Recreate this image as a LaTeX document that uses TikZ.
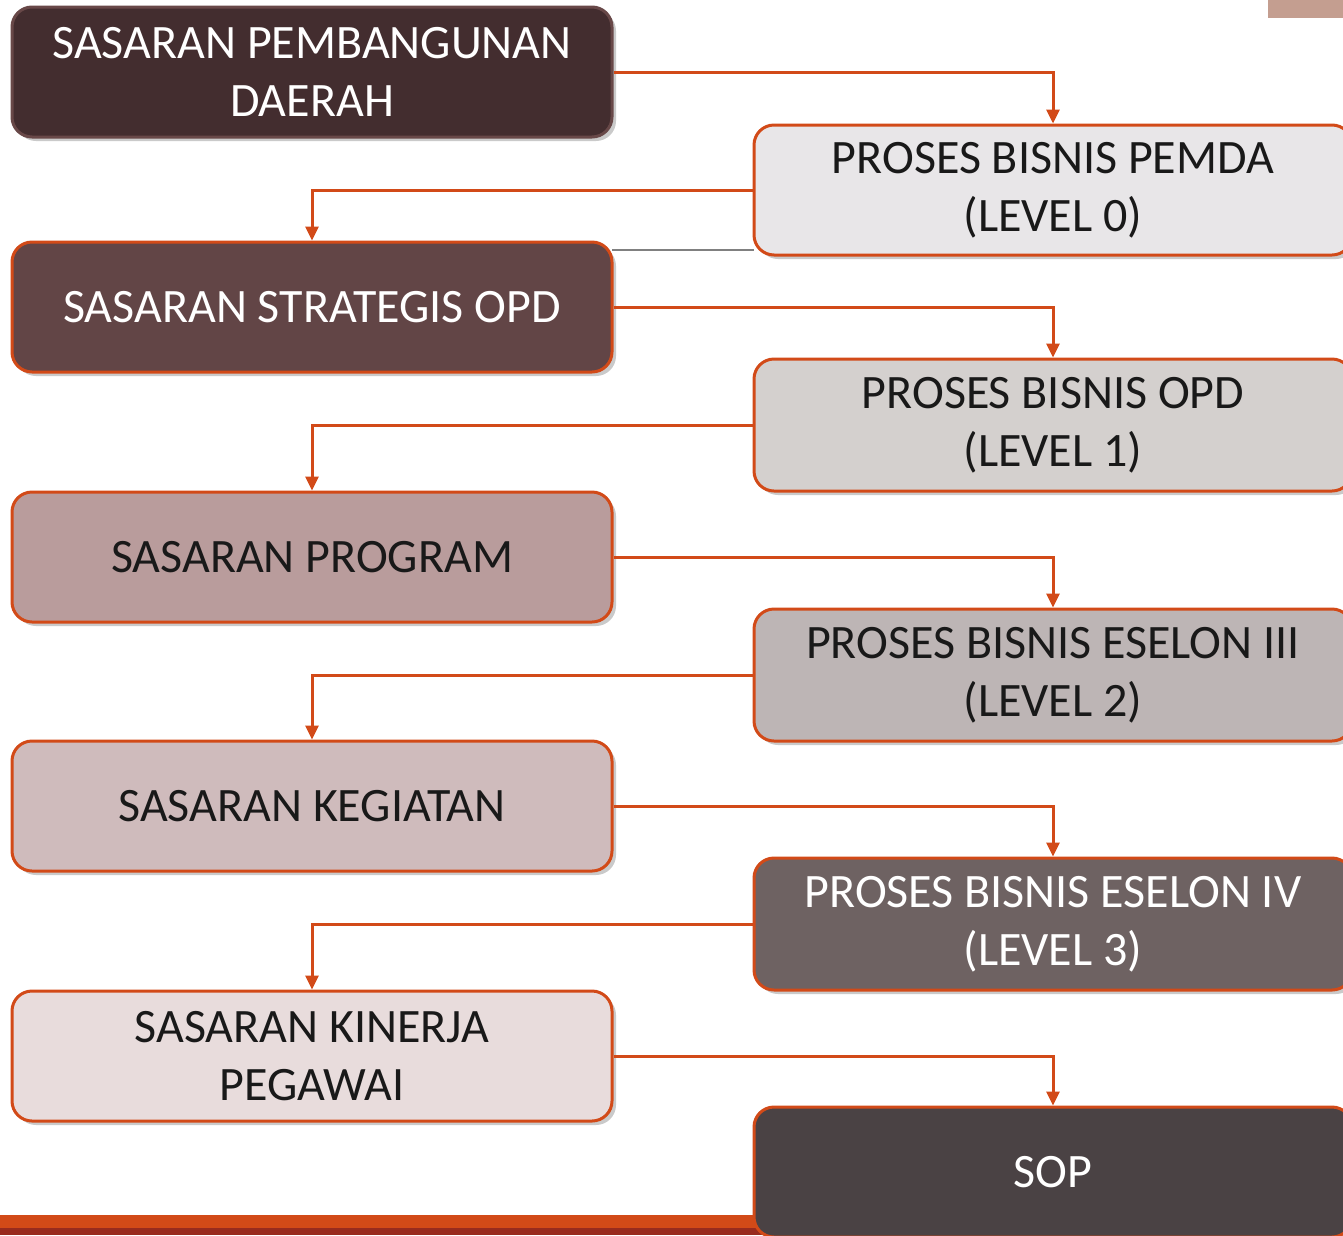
\documentclass[tikz,border=0pt]{standalone}
\usepackage{fontspec}
\setmainfont{Carlito}
\usepackage{tikz}
\usetikzlibrary{positioning, arrows.meta, shadows}

\definecolor{lineorange}{HTML}{D24A18}
\definecolor{bardark}{HTML}{982B1E}
\definecolor{cornerpink}{HTML}{C49E90}
\definecolor{sdfill}{HTML}{432D2F}
\definecolor{sdborder}{HTML}{684848}
\definecolor{ssofill}{HTML}{624546}
\definecolor{spfill}{HTML}{B99C9C}
\definecolor{skfill}{HTML}{CFBBBC}
\definecolor{skpfill}{HTML}{E8DCDC}
\definecolor{pbzerofill}{HTML}{E8E6E8}
\definecolor{pbonefill}{HTML}{D4D0CE}
\definecolor{pbtwofill}{HTML}{BDB5B5}
\definecolor{pbthreefill}{HTML}{6E6262}
\definecolor{sopfill}{HTML}{4A4244}

\tikzset{
  box/.style={rectangle, rounded corners=20pt, draw=lineorange, line width=3pt,
    minimum width=600pt, minimum height=130pt, align=center, inner sep=0pt,
    font=\fontsize{48}{58}\selectfont,
    drop shadow={shadow xshift=4pt, shadow yshift=-4pt, opacity=0.35, fill=black!60}},
  darkbox/.style={box, text=white},
  lightbox/.style={box, text=black!90},
  link/.style={draw=lineorange, line width=3pt, -{Triangle[width=13pt,length=14pt]}}
}

\begin{document}
\begin{tikzpicture}[x=1pt,y=-1pt]
        \useasboundingbox (0,0) rectangle (1343,1235);
        \fill[lineorange] (0,1215) rectangle (1343,1228);
        \fill[bardark] (0,1228) rectangle (1343,1235);
        \fill[cornerpink] (1268,0) rectangle (1343,18);

        \node[darkbox, fill=sdfill, draw=sdborder] (spd) at (312,72) {SASARAN PEMBANGUNAN\\DAERAH};
        \node[lightbox, fill=pbzerofill, minimum width=598pt] (pb0) at (1053,190) {PROSES BISNIS PEMDA\\(LEVEL 0)};
        \node[darkbox, fill=ssofill] (sso) at (312,307) {SASARAN STRATEGIS OPD};
        \node[lightbox, fill=pbonefill, minimum width=598pt, minimum height=132pt] (pb1) at (1053,425) {PROSES BISNIS OPD\\(LEVEL 1)};
        \node[lightbox, fill=spfill] (sp) at (312,557) {SASARAN PROGRAM};
        \node[lightbox, fill=pbtwofill, minimum width=598pt, minimum height=132pt] (pb2) at (1053,675) {PROSES BISNIS ESELON III\\(LEVEL 2)};
        \node[lightbox, fill=skfill] (sk) at (312,806) {SASARAN KEGIATAN};
        \node[darkbox, fill=pbthreefill, minimum width=598pt, minimum height=132pt] (pb3) at (1053,924) {PROSES BISNIS ESELON IV\\(LEVEL 3)};
        \node[lightbox, fill=skpfill] (skp) at (312,1056) {SASARAN KINERJA\\PEGAWAI};
        \node[darkbox, fill=sopfill, minimum width=598pt] (sop) at (1053,1172) {SOP};

        \coordinate (gl1) at (612,250);
        \coordinate (gl2) at (754,250);
        \draw[gray, line width=1.5pt] (gl1) -- (gl2);

        \draw[link] (spd.east) -| (pb0.north);
        \draw[link] (pb0.west) -| (sso.north);
        \draw[link] (sso.east) -| (pb1.north);
        \draw[link] (pb1.west) -| (sp.north);
        \draw[link] (sp.east) -| (pb2.north);
        \draw[link] (pb2.west) -| (sk.north);
        \draw[link] (sk.east) -| (pb3.north);
        \draw[link] (pb3.west) -| (skp.north);
        \draw[link] (skp.east) -| (sop.north);
\end{tikzpicture}
\end{document}
